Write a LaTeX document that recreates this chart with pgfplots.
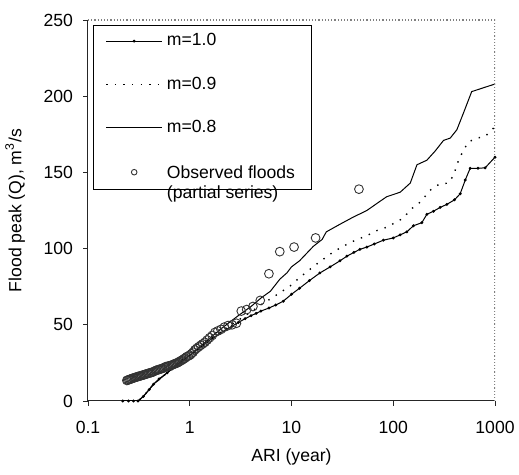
\documentclass[border=0pt]{standalone}
\usepackage{fontspec}
\setmainfont{Liberation Sans}
\usepackage{pgfplots}
\pgfplotsset{compat=1.18}

\begin{document}
\begin{tikzpicture}
\begin{axis}[
    at={(0,0)}, anchor=south west,
    scale only axis, width=203.5pt, height=190.5pt,
    xmode=log, xmin=0.1, xmax=1000, ymin=0, ymax=250,
    font=\fontsize{8.8}{10.5}\selectfont,
    axis x line*=bottom, axis y line*=left,
    axis line style={line width=0.5pt, black!85},
    xtick={0.1,1,10,100,1000}, xticklabels={0.1,1,10,100,1000},
    ytick={0,50,100,150,200,250}, yticklabels={0,50,100,150,200,250},
    minor xtick={}, xminorticks=false,
    tick align=outside, major tick length=2.5pt,
    tick style={black!85, line width=0.4pt},
    xticklabel shift=4pt, yticklabel shift=1.5pt,
    xlabel style={at={(axis description cs:0.5,-0.147)}, anchor=center},
    ylabel style={at={(axis description cs:-0.179,0.5)}, anchor=center},
    xlabel={ARI (year)},
    ylabel={Flood peak (Q), m\textsuperscript{3}/s},
    clip=true,
    legend cell align=left,
    legend style={at={(0,1)}, anchor=north west, xshift=2.5pt, yshift=-2.5pt,
        draw=black, line width=0.5pt, row sep=10pt, inner xsep=6pt, inner ysep=2pt,
        font=\fontsize{8.8}{10.5}\selectfont},
    legend image code/.code={\draw[mark repeat=2,mark phase=2,#1] plot coordinates {(0pt,0pt) (14pt,0pt) (28pt,0pt)};},
]
% m = 1.0 (lowest curve, small markers)
\addplot[black, line width=0.5pt, mark=*, mark size=0.45pt] coordinates {
(0.22,0) (0.25,0) (0.28,0) (0.31,0) (0.35,3) (0.4,7.5) (0.44,11) (0.5,14.5)
(0.6,18.5) (0.67,21) (0.74,23.5) (0.85,27) (1.0,30) (1.1,32) (1.2,34) (1.35,36.5)
(1.5,39) (1.7,41.5) (2,44.5) (2.3,47) (2.6,49) (3,51.5) (3.5,54) (4,56)
(4.5,57.5) (5,59) (6,61) (7,63) (8.3,65.5) (10,70) (12,74) (15,79)
(19,84) (24,88) (30,92) (35,95) (41,97.5) (47,99.5) (55,101) (65,103)
(80,105.5) (100,107) (117,109) (136,111) (158,115) (191,117) (214,122.5) (248,124.5)
(289,127) (336,129) (400,132) (455,136) (510,145) (570,152.7) (680,152.7) (800,153) (1000,160)
};
\addlegendentry{m=1.0}
% m = 0.9 (dotted)
\addplot[black, line width=0.7pt, dash pattern=on 0.7pt off 3.6pt] coordinates {
(0.22,0) (0.31,0) (0.35,3) (0.44,11) (0.6,18.5) (0.74,23.5) (1.0,30) (1.2,34)
(1.5,39) (2,45.5) (3,53) (4,58.5) (5,63) (6.2,67) (7.7,71) (9.7,75.5)
(12,81) (17.8,90) (26,98) (37.7,104) (55,108.5) (70,112) (86,114) (126,120)
(147,125.5) (184,130.5) (240,139.5) (289,142.5) (349,143) (391,148) (438,158) (490,164.5)
(548,170) (663,172.5) (800,173.5) (1000,180)
};
\addlegendentry{m=0.9}
% m = 0.8 (upper curve)
\addplot[black, line width=0.5pt] coordinates {
(0.22,0) (0.31,0) (0.35,3) (0.44,11) (0.6,18.5) (0.74,23.5) (1.0,30) (1.2,34.5)
(1.5,40) (2,47) (2.5,52) (3,56) (4,62) (5,67.5) (6.2,72) (7.7,80)
(9,84) (10,88) (12,92) (16.4,101.5) (20,106) (22,111) (30,116) (40,120.5)
(55,125) (74,131) (86,134) (117,137) (147,143) (171,155) (214,158) (258,164)
(312,171) (363,172.5) (422,178) (490,189) (590,203) (1000,208)
};
\addlegendentry{m=0.8}
% observed floods, partial series
\addplot[only marks, mark=o, mark size=2.2pt, black!80, mark options={line width=0.45pt},
    legend image post style={mark size=1.4pt}] coordinates {
(46,139) (17.25,107) (10.6,101) (7.67,98) (6.0,83.5) (4.93,66) (4.18,62) (3.63,60) (3.21,59)
(2.875,51) (2.604,50) (2.379,49.5) (2.19,48.5) (2.029,47) (1.89,46) (1.769,45) (1.663,43)
(1.568,41.5) (1.484,40) (1.408,38.5) (1.34,37.5) (1.278,36.5) (1.221,35.5) (1.169,34.5) (1.122,33.5)
(1.078,32) (1.038,31) (1.0,30) (0.965,29.5) (0.932,29) (0.901,28.2) (0.873,27.6) (0.847,27)
(0.822,26.5) (0.798,26) (0.775,25.5) (0.754,25) (0.734,24.7) (0.715,24.5) (0.697,24.1) (0.679,23.8)
(0.663,23.5) (0.640,23.2) (0.619,23) (0.599,22.7) (0.58,22.5) (0.562,22) (0.545,21.5) (0.530,21.2)
(0.515,21) (0.501,20.7) (0.488,20.5) (0.475,20.2) (0.463,20) (0.448,19.5) (0.434,19) (0.421,18.7)
(0.408,18.5) (0.396,18.2) (0.385,18) (0.375,17.7) (0.365,17.5) (0.356,17.2) (0.347,17) (0.336,16.7)
(0.326,16.5) (0.317,16.2) (0.308,16) (0.300,15.7) (0.292,15.5) (0.284,15.2) (0.277,15) (0.270,14.7)
(0.264,14.5) (0.258,14.2) (0.252,14) (0.246,13.7) (0.241,13.5)
};
\addlegendentry{\begin{tabular}[t]{@{}l@{}}Observed floods\\[-0.5pt](partial series)\end{tabular}}
\draw[black!50, densely dotted, line width=0.6pt] (rel axis cs:0,1) -- (rel axis cs:1,1) -- (rel axis cs:1,0);
\end{axis}
\pgfresetboundingbox
\useasboundingbox (-44pt,-37pt) rectangle (215.5pt,200.5pt);
\end{tikzpicture}
\end{document}
